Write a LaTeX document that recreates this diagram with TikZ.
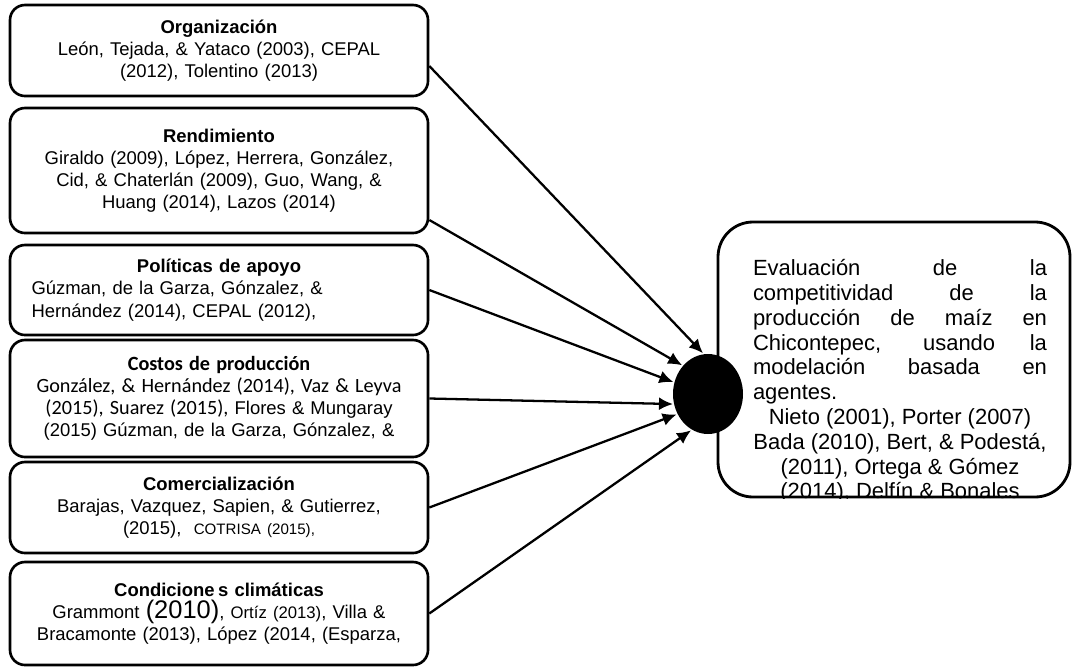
\documentclass[tikz,border=0pt]{standalone}
\usepackage{fontspec}
\setmainfont{Liberation Sans}
\newfontfamily\calibri{Carlito}
\usetikzlibrary{arrows.meta,positioning,calc,shapes.geometric}
\newcommand{\clb}{\calibri\fontsize{11.5}{12.6}\selectfont}

\begin{document}
\begin{tikzpicture}[
    >={Latex[length=2.8mm,width=2.6mm]}, line width=1.3pt,
    factor/.style={draw, rounded corners=0.3cm, line width=1.5pt, minimum width=8.36cm, text width=8.0cm, inner xsep=0.18cm, align=center, font=\fontsize{10.5}{12.6}\selectfont},
    hubdot/.style={ellipse, fill=black, minimum width=1.4cm, minimum height=1.6cm, inner sep=0pt},
    goalbox/.style={draw, rounded corners=0.7cm, line width=1.6pt, minimum width=7.04cm, minimum height=5.5cm},
    goaltxt/.style={text width=5.88cm, align=justify, inner sep=0pt, font=\fontsize{12.5}{14.1}\selectfont}
  ]
  \node[factor, minimum height=1.82cm] (org) at (4.38,-1.01) {\textbf{Organización}\\ León, Tejada, \& Yataco (2003), CEPAL\\ (2012), Tolentino (2013)};
  \node[factor, minimum height=2.5cm] (rend) at (4.38,-3.41) {\textbf{Rendimiento}\\ Giraldo (2009), López, Herrera, González,\\ Cid, \& Chaterlán (2009), Guo, Wang, \&\\ Huang (2014), Lazos (2014)};
  \node[factor, minimum height=1.8cm, align=left, text width=7.5cm, inner xsep=0.43cm] (pol) at (4.38,-5.8) {{\centering\bfseries Políticas de apoyo\par}Gúzman, de la Garza, Gónzalez, \&\\ Hernández (2014), CEPAL (2012),};
  \node[factor, minimum height=2.34cm] (cost) at (4.38,-7.97) {{\clb\bfseries Costos de producción}\\ {\clb González, \& Hernández (2014), Vaz \& Leyva}\\ {\clb (2015), Suarez (2015),} Flores \& Mungaray\\ (2015) Gúzman, de la Garza, Gónzalez, \&};
  \node[factor, minimum height=1.82cm] (com) at (4.38,-10.15) {\textbf{Comercialización}\\ Barajas, Vazquez, Sapien, \& Gutierrez,\\ (2015),\ \ {\fontsize{8.6}{12}\selectfont COTRISA (2015),}\hspace*{0.6cm}};
  \node[factor, minimum height=2.06cm] (clim) at (4.38,-12.27) {\textbf{Condicione\kern2pt s climáticas}\\ Grammont {\fontsize{14.5}{12.6}\selectfont(2010)}, {\fontsize{9.5}{12.6}\selectfont Ortíz (2013)}, Villa \&\\ Bracamonte (2013), López (2014, (Esparza,};

  % target box, last line cut by the frame
  \node[goalbox] (goal) at (17.88,-7.19) {};
  \begin{scope}
    \clip[rounded corners=0.7cm] (goal.south west) rectangle (goal.north east);
    \node[goaltxt, anchor=north] (goaltext) at (18.0,-5.17) {Evaluación de la\linebreak competitividad de la\linebreak producción de maíz en\linebreak Chicontepec, usando la\linebreak modelación basada en\linebreak agentes.\par
      {\centering Nieto (2001), Porter (2007)\par Bada (2010), Bert, \& Podestá,\par (2011), Ortega \& Gómez\par (2014), Delfín \& Bonales\par}};
  \end{scope}
  \node[hubdot] (hub) at (14.16,-7.88) {};

  \draw[->] ([yshift=-0.31cm]org.east) -- (hub.97);
  \draw[->] ([yshift=-0.99cm]rend.east) -- (hub.132);
  \draw[->] (pol.east) -- (hub.161);
  \draw[->] (cost.east) -- (hub.196);
  \draw[->] (com.east) -- (hub.213);
  \draw[->] (clim.east) -- (hub.245);

  \pgfresetboundingbox
  \path[use as bounding box] (0,0) rectangle (21.5,-13.36);
\end{tikzpicture}
\end{document}
